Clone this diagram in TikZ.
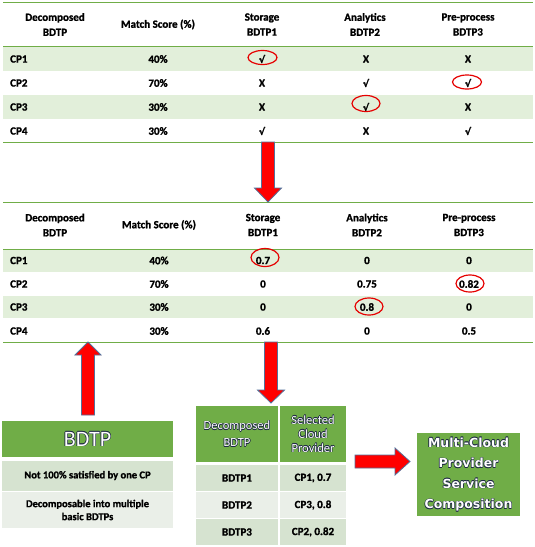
\documentclass[tikz,border=0pt]{standalone}
\usepackage{fontspec}
\setmainfont{Carlito}[BoldFeatures={FakeBold=1.2}]
\newfontfamily\dejavu{DejaVu Sans}
\newfontfamily\dejavuchk{DejaVu Sans Bold}[FakeBold=2.5]
\usetikzlibrary{shapes.geometric}
\definecolor{hdrgreen}{HTML}{70AD47}
\definecolor{band}{HTML}{E2EFDA}
\definecolor{rowA}{HTML}{D6E3D0}
\definecolor{rowB}{HTML}{EAEFE8}
\definecolor{arrowedge}{HTML}{52709A}
\definecolor{outl}{HTML}{1F2A44}
\definecolor{circred}{HTML}{E60000}
\newcommand{\chkmk}{{\dejavuchk\fontsize{9.5}{9}\selectfont √}}
\newcommand{\olt}[1]{\leavevmode\rlap{\color{outl}\kern-0.6pt#1}\rlap{\color{outl}\kern0.6pt#1}\rlap{\color{outl}\raisebox{0.6pt}{#1}}\rlap{\color{outl}\raisebox{-0.6pt}{#1}}\rlap{\color{outl}\kern0.4pt\raisebox{0.4pt}{#1}}\rlap{\color{outl}\kern-0.4pt\raisebox{-0.4pt}{#1}}#1}
\begin{document}
\begin{tikzpicture}[x=1pt,y=-1pt,
  hd/.style={font=\fontsize{11}{15}\selectfont\bfseries, align=center, inner sep=0pt},
  cell/.style={font=\fontsize{11}{13}\selectfont\bfseries, inner sep=0pt},
  tline/.style={draw=hdrgreen, line width=1pt},
  bigarrow/.style={fill=red, draw=arrowedge, line width=0.8pt, line join=miter},
  redcirc/.style={draw=circred, line width=1.2pt},
  gbox/.style={fill=hdrgreen, draw=none, inner sep=0pt, text=white},
  t3cell/.style={draw=white, line width=1.5pt, inner sep=0pt, font=\fontsize{11}{13}\selectfont\bfseries},
]
\useasboundingbox (0,0) rectangle (535,547);
\fill[white] (0,0) rectangle (535,547);

% ---------- Table 1 ----------
\fill[band] (3,46) rectangle (533,71);
\fill[band] (3,95) rectangle (533,119);
\draw[tline] (3,2) -- (533,2);
\draw[tline] (3,46) -- (533,46);
\draw[tline] (3,142) -- (533,142);
\node[hd] (t1h1) at (55,24.5) {Decomposed\\BDTP};
\node[hd] (t1h2) at (158,24.5) {Match Score (\%)};
\node[hd] (t1h3) at (262,24.5) {Storage\\BDTP1};
\node[hd] (t1h4) at (365,24.5) {Analytics\\BDTP2};
\node[hd] (t1h5) at (468,24.5) {Pre-process\\BDTP3};
\foreach \n/\y/\m/\a/\b/\c in {1/59/40\%/\chkmk/X/X, 2/83/70\%/X/\chkmk/\chkmk, 3/107/30\%/X/\chkmk/X, 4/131/30\%/\chkmk/X/\chkmk}{
  \node[cell, anchor=west] (t1r\n-c1) at (10,\y) {CP\n};
  \node[cell] (t1r\n-c2) at (158,\y) {\m};
  \node[cell] (t1r\n-c3) at (262,\y) {\a};
  \node[cell] (t1r\n-c4) at (366,\y) {\b};
  \node[cell] (t1r\n-c5) at (468,\y) {\c};
}
\draw[redcirc] (262.5,57.5) ellipse [x radius=14.5pt, y radius=7pt];
\draw[redcirc] (467,82) ellipse [x radius=14.5pt, y radius=7pt];
\draw[redcirc] (366,103.5) ellipse [x radius=14pt, y radius=8pt];

% ---------- Table 2 ----------
\fill[band] (3,249) rectangle (533,272);
\fill[band] (3,296) rectangle (533,318);
\draw[tline] (3,202) -- (533,202);
\draw[tline] (3,249) -- (533,249);
\draw[tline] (3,342) -- (533,342);
\node[hd] (t2h1) at (55,225) {Decomposed\\BDTP};
\node[hd] (t2h2) at (159,225) {Match Score (\%)};
\node[hd] (t2h3) at (263,225) {Storage\\BDTP1};
\node[hd] (t2h4) at (367,225) {Analytics\\BDTP2};
\node[hd] (t2h5) at (469,225) {Pre-process\\BDTP3};
\foreach \n/\y/\m/\a/\b/\c in {1/260.5/40\%/0.7/0/0, 2/284/70\%/0/0.75/0.82, 3/307/30\%/0/0.8/0, 4/331/30\%/0.6/0/0.5}{
  \node[cell, anchor=west] (t2r\n-c1) at (10,\y) {CP\n};
  \node[cell] (t2r\n-c2) at (159,\y) {\m};
  \node[cell] (t2r\n-c3) at (263,\y) {\a};
  \node[cell] (t2r\n-c4) at (367,\y) {\b};
  \node[cell] (t2r\n-c5) at (469,\y) {\c};
}
\draw[redcirc] (265,257.5) ellipse [x radius=14pt, y radius=9pt];
\draw[redcirc] (470,283.5) ellipse [x radius=14pt, y radius=8.5pt];
\draw[redcirc] (369,306.5) ellipse [x radius=14pt, y radius=8.5pt];

% ---------- Block arrows ----------
\draw[bigarrow] (261.5,142) -- (274.5,142) -- (274.5,188) -- (281.5,188) -- (268,202) -- (254.5,188) -- (261.5,188) -- cycle;
\draw[bigarrow] (81.5,415) -- (94.5,415) -- (94.5,355) -- (101,355) -- (88,342) -- (75,355) -- (81.5,355) -- cycle;
\draw[bigarrow] (264.5,342) -- (277.5,342) -- (277.5,390) -- (284.5,390) -- (271,403) -- (257.5,390) -- (264.5,390) -- cycle;
\draw[bigarrow] (355,455) -- (395,455) -- (395,448) -- (410,461.5) -- (395,475) -- (395,468) -- (355,468) -- cycle;

% ---------- BDTP box ----------
\node[gbox, minimum width=171pt, minimum height=36pt, font=\fontsize{22}{24}\selectfont] (bdtp) at (87.5,439) {\olt{BDTP}};
\node[fill=rowA, minimum width=171pt, minimum height=30pt, inner sep=0pt, font=\fontsize{10.5}{13}\selectfont\bfseries] (bdtp1) at (87.5,475.5) {Not 100\% satisfied by one CP};
\node[fill=rowB, minimum width=171pt, minimum height=36pt, inner sep=0pt, align=center, font=\fontsize{10.5}{13}\selectfont\bfseries] (bdtp2) at (87.5,510) {Decomposable into multiple\\basic BDTPs};

% ---------- Table 3 ----------
\node[t3cell, fill=hdrgreen, minimum width=84pt, minimum height=58pt, text=white, align=center, font=\fontsize{12.5}{17}\selectfont] (t3h1) at (237,434) {\olt{Decomposed}\\\olt{BDTP}};
\node[t3cell, fill=hdrgreen, minimum width=68pt, minimum height=58pt, text=white, align=center, font=\fontsize{12.5}{14}\selectfont] (t3h2) at (313,434) {\olt{Selected}\\\olt{Cloud}\\\olt{Provider}};
\node[t3cell, fill=rowA, minimum width=84pt, minimum height=28pt] (t3r1c1) at (237,478) {BDTP1};
\node[t3cell, fill=rowA, minimum width=68pt, minimum height=28pt] (t3r1c2) at (313,478) {CP1, 0.7};
\node[t3cell, fill=rowB, minimum width=84pt, minimum height=27pt] (t3r2c1) at (237,505) {BDTP2};
\node[t3cell, fill=rowB, minimum width=68pt, minimum height=27pt] (t3r2c2) at (313,505) {CP3, 0.8};
\node[t3cell, fill=rowA, minimum width=84pt, minimum height=27pt] (t3r3c1) at (237,532) {BDTP3};
\node[t3cell, fill=rowA, minimum width=68pt, minimum height=27pt] (t3r3c2) at (313,532) {CP2, 0.82};

% ---------- Multi-cloud box ----------
\node[gbox, minimum width=103pt, minimum height=83pt, align=center, font=\dejavu\bfseries\fontsize{12.5}{20.5}\selectfont] (mc) at (468.5,474.5) {\olt{Multi-Cloud}\\\olt{Provider}\\\olt{Service}\\\olt{Composition}};
\end{tikzpicture}
\end{document}
